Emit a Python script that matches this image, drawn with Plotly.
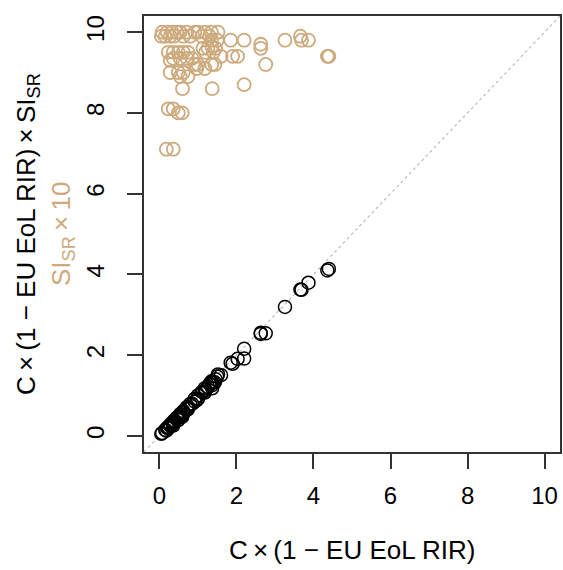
import plotly.graph_objects as go

# C x (1 - EU EoL RIR) for each material
cx = [0.07, 0.20, 0.33, 0.45, 0.54, 0.71, 0.92, 1.00, 1.18, 1.35, 1.52,
      0.05, 0.15, 0.28, 0.38, 0.62, 0.80, 1.10, 1.30,
      1.35, 1.50, 1.85, 2.20, 3.26, 3.69, 3.87,
      3.66, 2.63, 2.63,
      1.13, 1.26, 1.36, 1.46, 1.20, 1.40,
      0.23, 0.36, 0.49, 0.62, 0.74,
      1.60, 1.90, 2.03, 4.36, 4.40,
      0.36, 0.54, 0.72, 0.85, 0.28,
      1.36, 1.44, 2.76, 1.00, 0.92,
      0.97, 1.18,
      0.28, 0.49, 0.62,
      0.54, 0.74,
      2.20,
      0.60, 1.37,
      0.23, 0.36, 0.49, 0.59,
      0.18, 0.36]

# Supply-risk sub-index SI_SR x 10 for the same materials
si10 = [10.0, 10.0, 10.0, 10.0, 10.0, 10.0, 10.0, 10.0, 10.0, 10.0, 10.0,
        9.9, 9.9, 9.9, 9.9, 9.9, 9.9, 9.9, 9.9,
        9.8, 9.8, 9.8, 9.8, 9.8, 9.8, 9.8,
        9.9, 9.7, 9.6,
        9.6, 9.6, 9.65, 9.6, 9.5, 9.5,
        9.5, 9.5, 9.5, 9.5, 9.5,
        9.4, 9.4, 9.4, 9.4, 9.4,
        9.35, 9.35, 9.35, 9.35, 9.3,
        9.2, 9.2, 9.2, 9.2, 9.2,
        9.1, 9.1,
        9.0, 9.0, 9.0,
        8.9, 8.9,
        8.7,
        8.6, 8.6,
        8.1, 8.1, 8.0, 8.0,
        7.1, 7.1]

# Combined indicator C x (1 - EU EoL RIR) x SI_SR
combined = [x * s / 10.0 for x, s in zip(cx, si10)]

axis_ticks = [0, 2, 4, 6, 8, 10]
axis_range = [-0.4, 10.4]

gold = "#CDAA7D"
font = "Liberation Sans, Arial, sans-serif"

fig = go.Figure()

# 1:1 reference line
fig.add_trace(go.Scatter(
    x=axis_range, y=axis_range, mode="lines",
    line=dict(color="#BDBDBD", width=1.2, dash="dot"),
    hoverinfo="skip", showlegend=False))

fig.add_trace(go.Scatter(
    x=cx, y=si10, mode="markers",
    marker=dict(symbol="circle-open", size=13, color=gold,
                line=dict(color=gold, width=1.8)),
    showlegend=False))

fig.add_trace(go.Scatter(
    x=cx, y=combined, mode="markers",
    marker=dict(symbol="circle-open", size=13, color="black",
                line=dict(color="black", width=1.5)),
    showlegend=False))

axis_common = dict(
    range=axis_range, tickvals=axis_ticks, ticks="outside", ticklen=15,
    tickwidth=1.5, tickcolor="#333333", showgrid=False, zeroline=False,
    showline=True, mirror=True, linecolor="#333333", linewidth=1.6,
    tickfont=dict(family=font, size=24, color="black"))

fig.update_xaxes(**axis_common, ticklabelstandoff=6)
fig.update_yaxes(**axis_common, tickangle=-90, ticklabelstandoff=14)

fig.add_annotation(
    text="C\u2009\u00d7\u2009(1 \u2212 EU EoL RIR)",
    xref="paper", yref="paper", x=0.5, y=0, yshift=-98,
    xanchor="center", yanchor="middle",
    showarrow=False, font=dict(family=font, size=26, color="black"))

fig.add_annotation(
    text="C\u2009\u00d7\u2009(1 \u2212 EU EoL RIR)\u2009\u00d7\u2009SI<sub>SR</sub>",
    xref="paper", yref="paper", x=0, xshift=-117, y=0.5,
    xanchor="center", yanchor="middle",
    textangle=-90, showarrow=False,
    font=dict(family=font, size=26, color="black"))

fig.add_annotation(
    text="SI<sub>SR</sub>\u2009\u00d7\u200910",
    xref="paper", yref="paper", x=0, xshift=-82, y=0.5,
    xanchor="center", yanchor="middle",
    textangle=-90, showarrow=False,
    font=dict(family=font, size=26, color=gold))

fig.update_layout(
    width=563, height=570,
    margin=dict(l=144, r=1, t=16, b=118),
    plot_bgcolor="white", paper_bgcolor="white",
    font=dict(family=font))

fig.write_html("out.html")
